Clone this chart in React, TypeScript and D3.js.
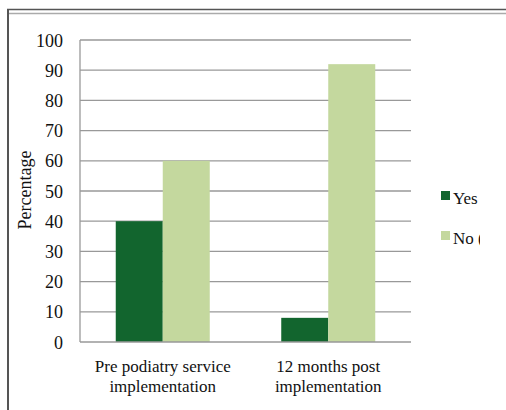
import React from "react";
import * as d3 from "d3";

const categories = [["Pre podiatry service", "implementation"], ["12 months post", "implementation"]];
const seriesNames = ["Yes", "No ("];
const yesValues = [40, 8];
const noValues = [60, 92];
const yTicks = [0, 10, 20, 30, 40, 50, 60, 70, 80, 90, 100];
const colors = ["#12652e", "#c4d89e"];

export default function App() {
  const W = 506, H = 410;
  const left = 80, right = 411, top = 40, bottom = 342;
  const x0 = d3.scaleBand<number>().domain([0, 1]).range([left, right]).paddingInner(0).paddingOuter(0);
  const bw = 47;
  const y = d3.scaleLinear().domain([0, 100]).range([bottom, top]);
  const font = "Liberation Serif";
  const series = [yesValues, noValues];
  return (
    <svg width={W} height={H} style={{ position: "absolute", left: 0, top: 0 }}>
      <defs>
        <clipPath id="lg"><rect x={430} y={0} width={50} height={H} /></clipPath>
      </defs>
      <rect x={0} y={0} width={W} height={H} fill="#fff" />
      <line x1={7} x2={W} y1={9.5} y2={9.5} stroke="#555" strokeWidth={1.5} />
      <line x1={8} x2={W} y1={13.5} y2={13.5} stroke="#aaa" strokeWidth={1.5} />
      <line x1={8} x2={8} y1={9} y2={H} stroke="#555" strokeWidth={2} />
      {yTicks.map((t) => (
        <g key={t}>
          {t > 0 && <line x1={left} x2={right} y1={y(t)} y2={y(t)} stroke="#999" strokeWidth={1.3} />}
          <text x={63} y={y(t) + 6.5} textAnchor="end" fontFamily={font} fontSize={18} fill="#111">{t}</text>
        </g>
      ))}
      {series.map((vals, si) =>
        vals.map((v, ci) => {
          const c = x0(ci)! + x0.bandwidth() / 2;
          const xs = si === 0 ? c - bw : c;
          return <rect key={si + "-" + ci} x={xs} y={y(v)} width={bw} height={y(0) - y(v)} fill={colors[si]} />;
        })
      )}
      <line x1={left} x2={left} y1={top} y2={bottom} stroke="#999" strokeWidth={1.3} />
      <line x1={left} x2={right} y1={bottom} y2={bottom} stroke="#999" strokeWidth={1.3} />
      {categories.map((lines, ci) => {
        const c = x0(ci)! + x0.bandwidth() / 2;
        return lines.map((l, li) => (
          <text key={ci + "-" + li} x={c} y={372 + li * 20} textAnchor="middle" fontFamily={font} fontSize={17} fill="#111">{l}</text>
        ));
      })}
      <text transform="translate(31,190) rotate(-90)" textAnchor="middle" fontFamily={font} fontSize={18} fill="#111">Percentage</text>
      <g clipPath="url(#lg)">
        {seriesNames.map((n, i) => (
          <g key={n}>
            <rect x={441} y={191 + i * 40} width={9} height={9} fill={colors[i]} />
            <text x={453} y={204 + i * 40} fontFamily={font} fontSize={17} fill="#111">{n}</text>
          </g>
        ))}
      </g>
    </svg>
  );
}
